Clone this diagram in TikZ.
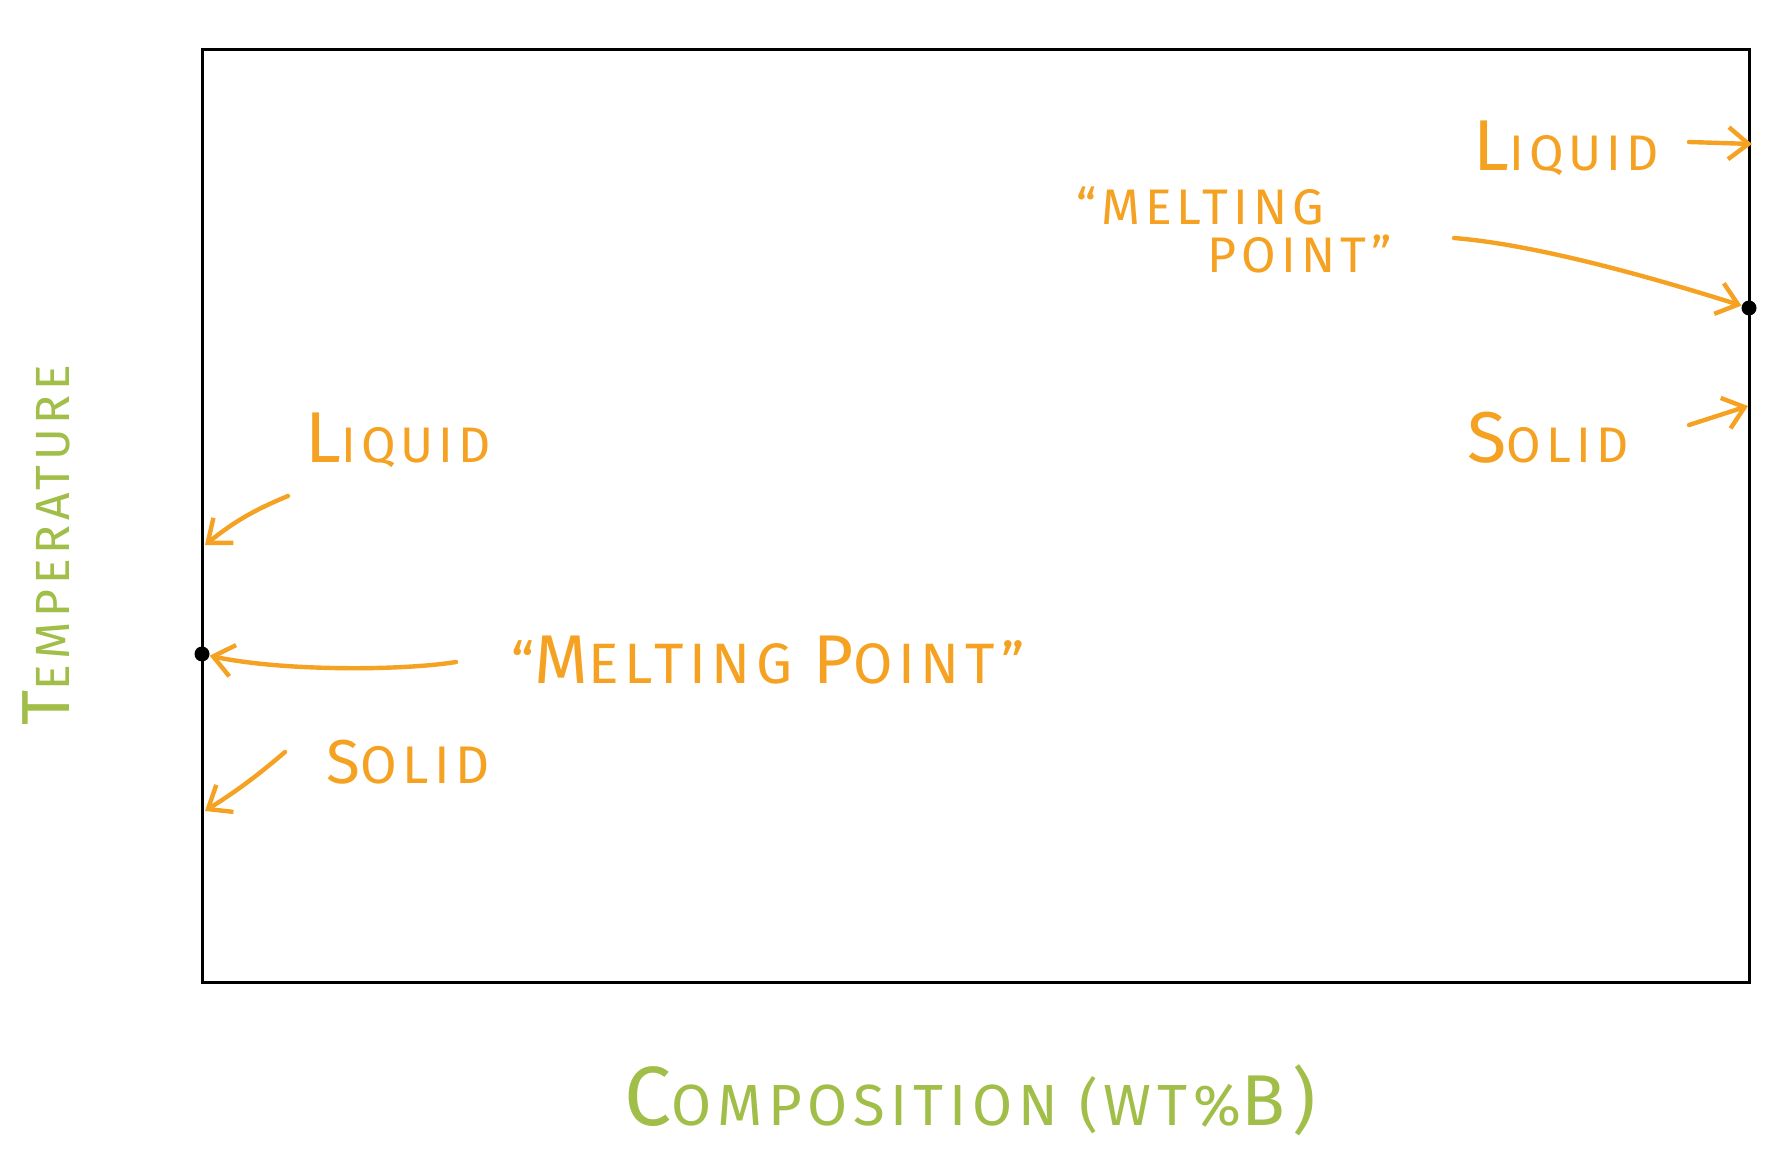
\documentclass[tikz,border=0pt]{standalone}
\usepackage{fontspec}
\setmainfont{Fira Sans}[LetterSpace=10]
\usetikzlibrary{arrows.meta}
\definecolor{hand}{RGB}{245,162,35}
\definecolor{axisgreen}{RGB}{160,190,72}
\newcommand{\hbigletter}[1]{{\fontsize{36}{36}\selectfont #1}}
\newcommand{\hsmallletters}[1]{{\fontsize{25}{25}\selectfont #1}}
\tikzset{
  handtext/.style={text=hand, inner sep=0pt, anchor=center},
  axistext/.style={text=axisgreen, inner sep=0pt, anchor=center},
  harrow/.style={draw=hand, line width=2.2pt, line cap=round,
    -{Straight Barb[length=10pt,width=16pt,line width=2.2pt]}},
  frame/.style={draw=black, line width=1.5pt},
  pointdot/.style={circle, fill=black, inner sep=0pt, minimum size=7.5pt}
}
\begin{document}
\begin{tikzpicture}[x=0.5pt,y=-0.5pt]
\useasboundingbox[fill=white] (0,0) rectangle (1787,1154);
% frame
\draw[frame] (202,50) rectangle (1749,982);
\node[pointdot] (ldot) at (202,654) {};
\node[pointdot] (rdot) at (1749,308) {};

% left side labels
\node[handtext] (lliq) at (398,440) {\hbigletter{L}\hsmallletters{IQUID}};
\node[handtext] (lmelt) at (768,660) {{\fontsize{28.5}{28.5}\selectfont “}{\fontsize{34.5}{34.5}\selectfont M}{\fontsize{28.5}{28.5}\selectfont ELTING }{\fontsize{34.5}{34.5}\selectfont P}{\fontsize{28.5}{28.5}\selectfont OINT”}};
\node[handtext] (lsol) at (408,762) {{\fontsize{31}{31}\selectfont S}{\fontsize{26.5}{26.5}\selectfont OLID}};

\coordinate (lliqs) at (288,496);
\coordinate (lliqt) at (205,545);
\coordinate (lmelts) at (456,662);
\coordinate (lsols) at (285,752);
\coordinate (lsolt) at (205,811);

\draw[harrow] (lliqs) to[bend right=8] (lliqt);
\draw[harrow] (lmelts) .. controls (400,671) and (280,671) .. (ldot);
\draw[harrow] (lsols) to[bend left=4] (lsolt);

% right side labels
\node[handtext] (rliq) at (1566,148) {\hbigletter{L}\hsmallletters{IQUID}};
\node[handtext] (rmelt1) at (1200,206) {\hsmallletters{“MELTING}};
\node[handtext] (rmelt2) at (1300,254) {\hsmallletters{POINT"}};
\node[handtext] (rsol) at (1548,438) {\hbigletter{S}\hsmallletters{OLID}};

\coordinate (rliqs) at (1689,142);
\coordinate (rliqt) at (1752,144);
\coordinate (rmelts) at (1454,238);
\coordinate (rsols) at (1689,425);
\coordinate (rsolt) at (1748,406);

\draw[harrow] (rliqs) -- (rliqt);
\draw[harrow] (rmelts) .. controls (1540,245) and (1660,280) .. (rdot);
\draw[harrow] (rsols) -- (rsolt);

% axis labels
\node[axistext, rotate=90] (ylab) at (46,545)
  {{\fontsize{34}{34}\selectfont T}{\fontsize{24}{24}\selectfont EMPERATURE}};
\node[axistext] (xlab) at (970,1100)
  {{\fontsize{42}{42}\selectfont C}{\fontsize{29}{29}\selectfont OMPOSITION (WT\%}{\fontsize{36}{36}\selectfont B)}};
\end{tikzpicture}
\end{document}
